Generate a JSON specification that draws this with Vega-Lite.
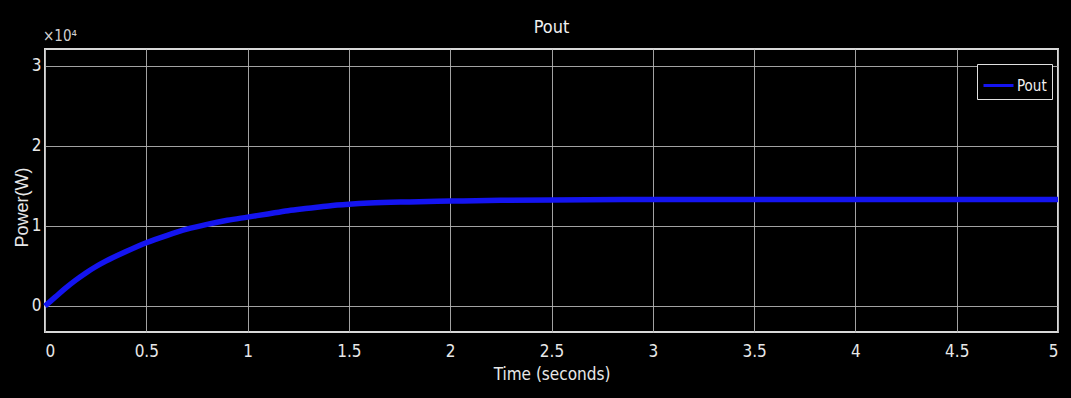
{
  "$schema": "https://vega.github.io/schema/vega-lite/v6.json",
  "width": 1013,
  "height": 283,
  "autosize": {"type": "none"},
  "padding": {"left": 45, "top": 49, "right": 13, "bottom": 66},
  "background": "#000000",
  "title": {
    "text": "Pout",
    "color": "#f0f0f0",
    "font": "Liberation Sans Narrow, DejaVu Sans Condensed, Liberation Sans",
    "fontSize": 18,
    "fontWeight": "normal",
    "anchor": "middle",
    "frame": "group",
    "offset": 11,
    "dy": 19
  },
  "config": {
    "view": {"stroke": "#d8d8d8", "strokeWidth": 2, "fill": "#000000"},
    "axis": {
      "domain": false,
      "ticks": false,
      "grid": true,
      "gridColor": "#b4b4b4",
      "gridWidth": 1,
      "gridOpacity": 0.9,
      "labelColor": "#e8e8e8",
      "labelFont": "Liberation Sans Narrow, DejaVu Sans Condensed, Liberation Sans",
      "labelFontSize": 17,
      "titleColor": "#e8e8e8",
      "titleFont": "Liberation Sans Narrow, DejaVu Sans Condensed, Liberation Sans",
      "titleFontWeight": "normal"
    },
    "legend": {
      "labelColor": "#f0f0f0",
      "labelFont": "Liberation Sans Narrow, DejaVu Sans Condensed, Liberation Sans",
      "labelFontSize": 15
    }
  },
  "data": {
    "values": [
      {"t": 0.0, "p": 0.0, "series": "Pout"},
      {"t": 0.05, "p": 0.11, "series": "Pout"},
      {"t": 0.1, "p": 0.22, "series": "Pout"},
      {"t": 0.15, "p": 0.32, "series": "Pout"},
      {"t": 0.2, "p": 0.41, "series": "Pout"},
      {"t": 0.25, "p": 0.49, "series": "Pout"},
      {"t": 0.3, "p": 0.56, "series": "Pout"},
      {"t": 0.4, "p": 0.68, "series": "Pout"},
      {"t": 0.5, "p": 0.79, "series": "Pout"},
      {"t": 0.6, "p": 0.88, "series": "Pout"},
      {"t": 0.7, "p": 0.96, "series": "Pout"},
      {"t": 0.8, "p": 1.02, "series": "Pout"},
      {"t": 0.9, "p": 1.07, "series": "Pout"},
      {"t": 1.0, "p": 1.11, "series": "Pout"},
      {"t": 1.1, "p": 1.15, "series": "Pout"},
      {"t": 1.2, "p": 1.19, "series": "Pout"},
      {"t": 1.3, "p": 1.22, "series": "Pout"},
      {"t": 1.4, "p": 1.25, "series": "Pout"},
      {"t": 1.5, "p": 1.27, "series": "Pout"},
      {"t": 1.6, "p": 1.285, "series": "Pout"},
      {"t": 1.8, "p": 1.3, "series": "Pout"},
      {"t": 2.0, "p": 1.31, "series": "Pout"},
      {"t": 2.25, "p": 1.32, "series": "Pout"},
      {"t": 2.5, "p": 1.325, "series": "Pout"},
      {"t": 3.0, "p": 1.33, "series": "Pout"},
      {"t": 3.5, "p": 1.33, "series": "Pout"},
      {"t": 4.0, "p": 1.33, "series": "Pout"},
      {"t": 4.5, "p": 1.33, "series": "Pout"},
      {"t": 5.0, "p": 1.33, "series": "Pout"}
    ]
  },
  "layer": [
    {
      "mark": {"type": "line", "strokeWidth": 5.5, "interpolate": "monotone"},
      "encoding": {
        "x": {
          "field": "t",
          "type": "quantitative",
          "scale": {"domain": [0, 5], "nice": false},
          "axis": {
            "values": [0, 0.5, 1, 1.5, 2, 2.5, 3, 3.5, 4, 4.5, 5],
            "format": "~g",
            "title": "Time (seconds)",
            "titleFontSize": 17,
            "labelPadding": 11,
            "titlePadding": 7
          }
        },
        "y": {
          "field": "p",
          "type": "quantitative",
          "scale": {"domain": [-0.325, 3.21], "nice": false, "zero": false},
          "axis": {
            "values": [0, 1, 2, 3],
            "format": "d",
            "title": "Power(W)",
            "titleFont": "Liberation Sans, Arial",
            "titleFontSize": 18,
            "titleX": -14,
            "titleY": 158,
            "labelPadding": 4
          }
        },
        "color": {
          "field": "series",
          "type": "nominal",
          "scale": {"range": ["#1414f0"]},
          "legend": {
            "title": null,
            "orient": "none",
            "legendX": 932,
            "legendY": 15,
            "symbolType": "stroke",
            "symbolSize": 900,
            "symbolStrokeWidth": 3,
            "strokeColor": "#e0e0e0",
            "fillColor": "#000000",
            "padding": 5,
            "labelOffset": 2
          }
        }
      }
    },
    {
      "data": {"values": [{"t": 0, "p": 3.21, "label": "×10⁴"}]},
      "mark": {
        "type": "text",
        "align": "left",
        "baseline": "bottom",
        "dx": -2,
        "dy": -5,
        "color": "#d0d0d0",
        "font": "Liberation Sans Narrow, DejaVu Sans Condensed, Liberation Sans",
        "fontSize": 15
      },
      "encoding": {
        "x": {"field": "t", "type": "quantitative"},
        "y": {"field": "p", "type": "quantitative"},
        "text": {"field": "label"}
      }
    }
  ]
}
